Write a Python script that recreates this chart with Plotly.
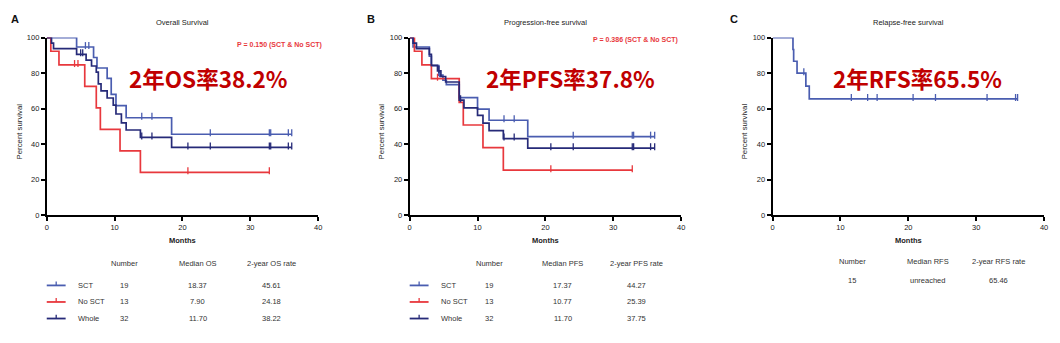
import plotly.graph_objects as go
import numpy as np

W, H = 1060, 343

# ---------------- data ----------------
# Overall survival (months, percent)
os_sct_t = [0, 4.4, 6.9, 7.4, 8.9, 9.5, 10.2, 11.7, 18.4, 36.1]
os_sct_s = [100, 94.7, 88.8, 82.9, 77.0, 68.1, 61.7, 54.9, 45.6, 45.6]
os_sct_c = [5.7, 6.2, 14.0, 15.5, 24.1, 32.8, 33.0, 35.6, 36.1]

os_nosct_t = [0, 0.6, 1.8, 5.6, 7.3, 7.9, 10.8, 13.8, 32.8]
os_nosct_s = [100, 92.3, 84.6, 72.5, 60.4, 48.3, 36.2, 24.2, 24.2]
os_nosct_c = [4.1, 4.6, 20.8, 32.8]

os_whole_t = [0, 0.7, 1.0, 4.4, 5.8, 6.6, 7.3, 7.6, 8.0, 8.9, 9.8, 10.2, 11.0, 11.7, 13.8, 18.4, 36.1]
os_whole_s = [100, 96.9, 93.8, 90.6, 87.3, 84.0, 80.6, 74.0, 70.0, 66.0, 62.0, 57.0, 52.0, 48.0, 43.8, 38.2, 38.2]
os_whole_c = [5.0, 5.3, 14.0, 15.5, 20.8, 24.1, 32.8, 33.0, 35.6, 36.1]

# Progression-free survival
pfs_sct_t = [0, 0.5, 2.9, 3.2, 4.3, 4.9, 5.4, 7.3, 10.0, 11.7, 17.4, 36.1]
pfs_sct_s = [100, 94.7, 89.5, 84.2, 78.9, 76.0, 73.5, 66.2, 59.8, 53.5, 44.3, 44.3]
pfs_sct_c = [4.4, 13.9, 15.4, 24.1, 32.8, 33.0, 35.5, 36.1]

pfs_nosct_t = [0, 0.7, 1.8, 3.2, 7.3, 7.9, 10.8, 13.8, 32.8]
pfs_nosct_s = [100, 92.3, 84.6, 76.9, 63.5, 50.8, 38.1, 25.4, 25.4]
pfs_nosct_c = [4.1, 20.8, 32.8]

pfs_whole_t = [0, 0.5, 1.0, 2.9, 3.2, 4.1, 4.6, 5.3, 7.3, 8.0, 10.0, 10.8, 11.7, 13.8, 17.4, 36.1]
pfs_whole_s = [100, 96.9, 93.8, 90.6, 84.4, 81.3, 78.1, 75.0, 64.8, 60.5, 56.2, 51.9, 47.6, 43.2, 37.8, 37.8]
pfs_whole_c = [4.3, 7.5, 13.9, 15.4, 20.8, 24.1, 32.8, 33.0, 35.5, 36.1]

# Relapse-free survival
rfs_t = [0, 3.0, 3.1, 3.6, 4.9, 5.4, 36.1]
rfs_s = [100, 93.3, 86.7, 80.0, 72.7, 65.5, 65.5]
rfs_c = [4.6, 11.6, 14.0, 15.4, 20.7, 24.0, 31.6, 35.8, 36.1]

x_ticks = [0, 10, 20, 30, 40]
y_ticks = [0, 20, 40, 60, 80, 100]

panel_titles = ["Overall Survival", "Progression-free survival", "Relapse-free survival"]
panel_letters = ["A", "B", "C"]
big_labels = ["2年OS率38.2%", "2年PFS率37.8%", "2年RFS率65.5%"]
p_labels = ["P = 0.150 (SCT & No SCT)", "P = 0.386 (SCT & No SCT)", None]

groups = ["SCT", "No SCT", "Whole"]
os_table = [["19", "18.37", "45.61"], ["13", "7.90", "24.18"], ["32", "11.70", "38.22"]]
pfs_table = [["19", "17.37", "44.27"], ["13", "10.77", "25.39"], ["32", "11.70", "37.75"]]
rfs_table = [["15", "unreached", "65.46"]]
os_head = ["Number", "Median OS", "2-year OS rate"]
pfs_head = ["Number", "Median PFS", "2-year PFS rate"]
rfs_head = ["Number", "Median RFS", "2-year RFS rate"]

C_SCT = "#4a5db0"
C_NO = "#e8383d"
C_WHOLE = "#262a78"
C_BIG = "#c00000"
FONT = "Liberation Sans, Arial, sans-serif"

# ---------------- layout geometry (pixels) ----------------
panel_x0 = [45, 410, 775]
plot_w = 273
plot_top, plot_bot = 34.5, 217

def px(x):
    return x / W

def py(y):
    return 1 - y / H

def step_at(t, s, x):
    idx = np.searchsorted(np.array(t), x, side="right") - 1
    return s[max(idx, 0)]

def ann(x, y, text, size, color, family=FONT, xanchor="center", **kw):
    return dict(x=px(x), y=py(y), xref="paper", yref="paper", text=text, showarrow=False,
                xanchor=xanchor, yanchor="middle", font=dict(family=family, size=size, color=color), **kw)

fig = go.Figure()

curves = [
    [(os_sct_t, os_sct_s, os_sct_c, C_SCT), (os_nosct_t, os_nosct_s, os_nosct_c, C_NO),
     (os_whole_t, os_whole_s, os_whole_c, C_WHOLE)],
    [(pfs_sct_t, pfs_sct_s, pfs_sct_c, C_SCT), (pfs_nosct_t, pfs_nosct_s, pfs_nosct_c, C_NO),
     (pfs_whole_t, pfs_whole_s, pfs_whole_c, C_WHOLE)],
    [(rfs_t, rfs_s, rfs_c, C_SCT)],
]

layout_axes = {}
annotations = []
shapes = []

for i in range(3):
    sfx = "" if i == 0 else str(i + 1)
    xa, ya = "x" + sfx, "y" + sfx
    for (t, s, c, col) in curves[i]:
        fig.add_trace(go.Scatter(x=t, y=s, mode="lines", line=dict(color=col, width=1.7, shape="hv"),
                                 xaxis=xa, yaxis=ya, showlegend=False, hoverinfo="skip", cliponaxis=False))
        cy = [step_at(t, s, v) + 0.8 for v in c]
        fig.add_trace(go.Scatter(x=c, y=cy, mode="markers",
                                 marker=dict(symbol="line-ns", size=5, line=dict(color=col, width=1.3)),
                                 xaxis=xa, yaxis=ya, showlegend=False, hoverinfo="skip", cliponaxis=False))
    x0 = panel_x0[i]
    axis_common = dict(showgrid=False, zeroline=False, showline=True, linecolor="black", linewidth=1.8,
                       ticks="outside", ticklen=4, tickwidth=1.5, tickcolor="black",
                       tickprefix="<b>", ticksuffix="</b>",
                       tickfont=dict(family=FONT, size=7.5, color="#222"))
    layout_axes["xaxis" + sfx] = dict(axis_common, domain=[px(x0), px(x0 + plot_w)], range=[0, 40],
                                      tickvals=x_ticks, anchor=ya)
    layout_axes["yaxis" + sfx] = dict(axis_common, domain=[py(plot_bot), py(plot_top)], range=[0, 100],
                                      tickvals=y_ticks, anchor=xa)
    cx = x0 + plot_w / 2
    annotations.append(ann(cx, 19, panel_titles[i], 7.5, "#222"))
    annotations.append(ann([13, 371, 736][i], 15, "<b>%s</b>" % panel_letters[i], 11, "#111"))
    annotations.append(ann([18, 382, 747][i], 131, "Percent survival", 7.8, "#222", textangle=-90))
    annotations.append(ann(cx, 243, "<b>Months</b>", 7.5, "#222"))
    annotations.append(ann([207, 572, 921][i], 76, "<b>%s</b>" % big_labels[i], 22.5, C_BIG,
                           family="Noto Sans CJK SC"))
    if p_labels[i]:
        annotations.append(ann([279, 637][i], [42, 37][i], "<b>%s</b>" % p_labels[i], 7, C_NO))

# ---------------- tables ----------------
def add_table(x_leg, x_lab, col_x, head, rows, head_y, row_ys, with_groups):
    for hx, h in zip(col_x, head):
        annotations.append(ann(hx, head_y, h, 7.5, "#333"))
    for r, (row, ry) in enumerate(zip(rows, row_ys)):
        if with_groups:
            col = [C_SCT, C_NO, C_WHOLE][r]
            shapes.append(dict(type="line", xref="paper", yref="paper", x0=px(x_leg), x1=px(x_leg + 19),
                               y0=py(ry), y1=py(ry), line=dict(color=col, width=1.8)))
            shapes.append(dict(type="line", xref="paper", yref="paper", x0=px(x_leg + 9.5), x1=px(x_leg + 9.5),
                               y0=py(ry), y1=py(ry - 4), line=dict(color=col, width=1.3)))
            annotations.append(ann(x_lab, ry, groups[r], 7.5, "#333", xanchor="left"))
        for vx, v in zip(col_x, row):
            annotations.append(ann(vx, ry, v, 7.5, "#333"))

add_table(45, 74, [123, 197, 271], os_head, os_table, 267, [289, 306, 323], True)
add_table(410, 439, [490, 564, 638], pfs_head, pfs_table, 267, [289, 306, 323], True)
add_table(0, 0, [855, 931, 1002], rfs_head, rfs_table, 264, [284], False)

fig.update_layout(width=W, height=H, margin=dict(l=0, r=0, t=0, b=0), plot_bgcolor="white",
                  paper_bgcolor="white", annotations=annotations, shapes=shapes, showlegend=False,
                  **layout_axes)

fig.write_html("out.html")
